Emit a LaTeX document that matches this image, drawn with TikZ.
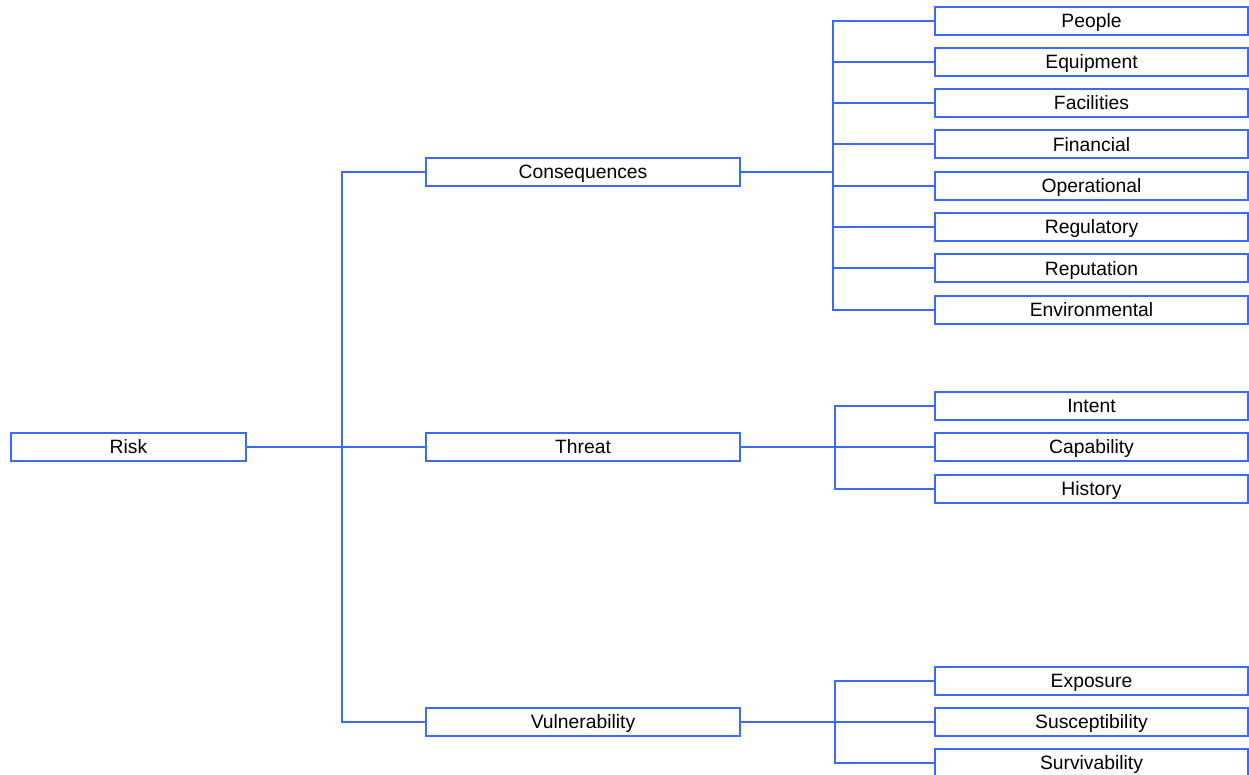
\documentclass[tikz,border=0pt]{standalone}
\usepackage{fontspec}
\setmainfont{Liberation Sans}
\definecolor{treeblue}{RGB}{58,106,255}

\begin{document}
\begin{tikzpicture}[x=1pt,y=-1pt,
	box/.style={draw=treeblue,line width=2pt,rectangle,inner sep=0pt,minimum height=28pt,text height=13.5pt,text depth=0pt,font=\fontsize{19.3}{23}\selectfont},
	rootbox/.style={box,minimum width=235pt},
	midbox/.style={box,minimum width=314pt},
	leafbox/.style={box,minimum width=313pt},
	link/.style={draw=treeblue,line width=2pt}]
		
		\useasboundingbox (0,0) rectangle (1249,775);
		
		\node[rootbox] (risk) at (128.5,447) {Risk};
		
		\node[midbox] (cons) at (583,172) {Consequences};
		\node[midbox] (threat) at (583,447) {Threat};
		\node[midbox] (vuln) at (583,722) {Vulnerability};
		
		\node[leafbox] (people) at (1091.5,21) {People};
		\node[leafbox] (equip) at (1091.5,62) {Equipment};
		\node[leafbox] (facil) at (1091.5,103) {Facilities};
		\node[leafbox] (finan) at (1091.5,144.5) {Financial};
		\node[leafbox] (oper) at (1091.5,186) {Operational};
		\node[leafbox] (regul) at (1091.5,227) {Regulatory};
		\node[leafbox] (reput) at (1091.5,268.5) {Reputation};
		\node[leafbox] (envir) at (1091.5,310) {Environmental};
		
		\node[leafbox] (intent) at (1091.5,406) {Intent};
		\node[leafbox] (capab) at (1091.5,447) {Capability};
		\node[leafbox] (hist) at (1091.5,488.5) {History};
		
		\node[leafbox] (expo) at (1091.5,681) {Exposure};
		\node[leafbox] (susc) at (1091.5,722) {Susceptibility};
		\node[leafbox] (surv) at (1091.5,763) {Survivability};
		
		\coordinate (jrisk) at (342,447);
		\coordinate (jcons) at (833,172);
		\coordinate (jthreat) at (835,447);
		\coordinate (jvuln) at (835,722);
		
		\draw[link] (risk.east) -- (jrisk);
		\draw[link] (jrisk) |- (cons.west);
		\draw[link] (jrisk) -- (threat.west);
		\draw[link] (jrisk) |- (vuln.west);
		
		\draw[link] (cons.east) -- (jcons);
		\draw[link] (jcons) |- (people.west);
		\draw[link] (jcons) |- (equip.west);
		\draw[link] (jcons) |- (facil.west);
		\draw[link] (jcons) |- (finan.west);
		\draw[link] (jcons) |- (oper.west);
		\draw[link] (jcons) |- (regul.west);
		\draw[link] (jcons) |- (reput.west);
		\draw[link] (jcons) |- (envir.west);
		
		\draw[link] (threat.east) -- (jthreat);
		\draw[link] (jthreat) |- (intent.west);
		\draw[link] (jthreat) -- (capab.west);
		\draw[link] (jthreat) |- (hist.west);
		
		\draw[link] (vuln.east) -- (jvuln);
		\draw[link] (jvuln) |- (expo.west);
		\draw[link] (jvuln) -- (susc.west);
		\draw[link] (jvuln) |- (surv.west);
		
	\end{tikzpicture}
\end{document}
